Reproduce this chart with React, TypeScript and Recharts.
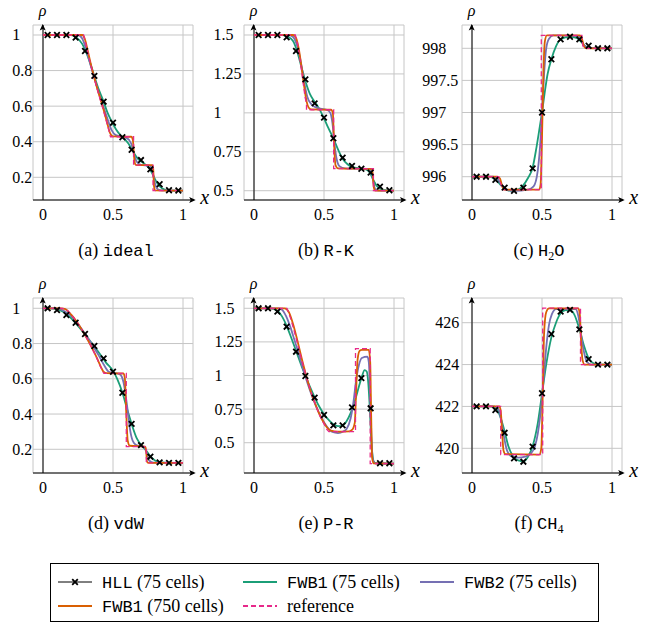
import { LineChart, Line, XAxis, YAxis, CartesianGrid, ReferenceLine } from "recharts";

type Pt = [number, number];

// x positions of the HLL markers (every 5th of 75 cells)
const markerX = [0.033, 0.1, 0.167, 0.233, 0.3, 0.367, 0.433, 0.5, 0.567, 0.633, 0.7, 0.767, 0.833, 0.9, 0.967];
const xTicks = [0, 0.5, 1];

// (a) ideal
const idealTicks = [0.2, 0.4, 0.6, 0.8, 1];
const idealHll = [1, 1, 1, 0.985, 0.91, 0.77, 0.625, 0.507, 0.425, 0.355, 0.297, 0.245, 0.161, 0.127, 0.126];
const idealFwb1: Pt[] = [[0, 1], [0.2, 1], [0.24, 0.985], [0.28, 0.95], [0.31, 0.9], [0.34, 0.835], [0.37, 0.76], [0.4, 0.69], [0.43, 0.632], [0.46, 0.565], [0.49, 0.515], [0.52, 0.472], [0.55, 0.44], [0.58, 0.418], [0.61, 0.39], [0.64, 0.35], [0.67, 0.312], [0.7, 0.29], [0.73, 0.273], [0.76, 0.25], [0.78, 0.222], [0.8, 0.19], [0.82, 0.162], [0.85, 0.138], [0.88, 0.128], [0.92, 0.125], [1, 0.125]];
const idealFwb2: Pt[] = [[0, 1], [0.25, 1], [0.28, 0.98], [0.31, 0.915], [0.34, 0.83], [0.37, 0.75], [0.4, 0.67], [0.43, 0.6], [0.46, 0.53], [0.49, 0.465], [0.52, 0.437], [0.56, 0.428], [0.6, 0.42], [0.63, 0.39], [0.65, 0.33], [0.67, 0.288], [0.7, 0.27], [0.76, 0.265], [0.78, 0.24], [0.8, 0.165], [0.82, 0.132], [0.85, 0.126], [1, 0.125]];
const idealFine: Pt[] = [[0, 1], [0.28, 1], [0.3, 0.975], [0.32, 0.91], [0.35, 0.81], [0.38, 0.72], [0.41, 0.64], [0.44, 0.56], [0.46, 0.5], [0.48, 0.447], [0.5, 0.43], [0.63, 0.428], [0.642, 0.41], [0.65, 0.32], [0.658, 0.275], [0.67, 0.268], [0.78, 0.268], [0.787, 0.25], [0.793, 0.15], [0.8, 0.127], [1, 0.125]];
const idealRef: Pt[] = [[0, 1], [0.29, 1], [0.31, 0.935], [0.34, 0.835], [0.37, 0.745], [0.4, 0.66], [0.43, 0.58], [0.455, 0.51], [0.47, 0.465], [0.482, 0.428], [0.647, 0.428], [0.647, 0.268], [0.786, 0.268], [0.786, 0.125], [1, 0.125]];

// (b) R-K
const rkTicks = [0.5, 0.75, 1, 1.25, 1.5];
const rkHll = [1.5, 1.5, 1.5, 1.485, 1.397, 1.215, 1.061, 0.969, 0.837, 0.712, 0.659, 0.641, 0.616, 0.526, 0.503];
const rkFwb1: Pt[] = [[0, 1.5], [0.2, 1.5], [0.24, 1.49], [0.28, 1.46], [0.31, 1.39], [0.34, 1.29], [0.37, 1.195], [0.4, 1.12], [0.43, 1.075], [0.46, 1.035], [0.5, 0.965], [0.53, 0.905], [0.567, 0.835], [0.6, 0.765], [0.633, 0.705], [0.67, 0.668], [0.7, 0.653], [0.767, 0.642], [0.8, 0.636], [0.83, 0.612], [0.853, 0.567], [0.88, 0.527], [0.92, 0.506], [1, 0.5]];
const rkFwb2: Pt[] = [[0, 1.5], [0.25, 1.5], [0.28, 1.487], [0.31, 1.425], [0.34, 1.3], [0.36, 1.19], [0.38, 1.105], [0.41, 1.055], [0.45, 1.032], [0.52, 1.02], [0.545, 1.0], [0.56, 0.935], [0.575, 0.8], [0.59, 0.705], [0.61, 0.658], [0.65, 0.643], [0.82, 0.64], [0.84, 0.62], [0.853, 0.555], [0.865, 0.512], [0.89, 0.501], [1, 0.5]];
const rkFine: Pt[] = [[0, 1.5], [0.28, 1.5], [0.3, 1.482], [0.32, 1.41], [0.34, 1.29], [0.36, 1.16], [0.375, 1.075], [0.39, 1.035], [0.41, 1.022], [0.55, 1.02], [0.563, 1.0], [0.572, 0.8], [0.582, 0.665], [0.6, 0.643], [0.84, 0.64], [0.848, 0.61], [0.856, 0.52], [0.866, 0.501], [1, 0.5]];
const rkRef: Pt[] = [[0, 1.5], [0.295, 1.5], [0.31, 1.45], [0.33, 1.335], [0.35, 1.2], [0.365, 1.1], [0.375, 1.06], [0.375, 1.02], [0.569, 1.02], [0.569, 0.642], [0.853, 0.642], [0.853, 0.5], [1, 0.5]];

// (c) H2O
const h2oTicks = [996, 996.5, 997, 997.5, 998];
const h2oHll = [996, 996, 995.95, 995.83, 995.78, 995.83, 996.13, 997.0, 997.83, 998.14, 998.18, 998.14, 998.04, 998, 998];
const h2oFwb1: Pt[] = [[0, 996], [0.12, 996], [0.15, 995.98], [0.18, 995.93], [0.21, 995.86], [0.24, 995.8], [0.28, 995.78], [0.32, 995.79], [0.36, 995.85], [0.4, 995.98], [0.433, 996.14], [0.46, 996.45], [0.48, 996.72], [0.5, 997.0], [0.52, 997.32], [0.54, 997.6], [0.567, 997.83], [0.6, 998.03], [0.633, 998.14], [0.7, 998.18], [0.75, 998.16], [0.78, 998.1], [0.81, 998.03], [0.85, 998.005], [1, 998]];
const h2oFwb2: Pt[] = [[0, 996], [0.15, 996], [0.18, 995.97], [0.21, 995.88], [0.24, 995.8], [0.3, 995.78], [0.4, 995.8], [0.44, 995.85], [0.47, 996.1], [0.49, 996.6], [0.5, 997.0], [0.515, 997.6], [0.53, 998.0], [0.55, 998.15], [0.58, 998.2], [0.76, 998.19], [0.78, 998.13], [0.8, 998.05], [0.83, 998.01], [1, 998]];
const h2oFine: Pt[] = [[0, 996], [0.18, 996], [0.2, 995.97], [0.215, 995.86], [0.23, 995.8], [0.48, 995.8], [0.49, 995.88], [0.5, 996.6], [0.51, 997.6], [0.52, 998.1], [0.535, 998.2], [0.77, 998.2], [0.785, 998.15], [0.8, 998.03], [0.815, 998], [1, 998]];
const h2oRef: Pt[] = [[0, 996], [0.19, 996], [0.21, 995.86], [0.22, 995.8], [0.495, 995.8], [0.495, 998.2], [0.785, 998.2], [0.79, 998.05], [0.8, 998], [1, 998]];

// (d) vdW
const vdwTicks = [0.2, 0.4, 0.6, 0.8, 1];
const vdwHll = [1, 0.99, 0.962, 0.918, 0.854, 0.786, 0.716, 0.64, 0.521, 0.344, 0.224, 0.158, 0.126, 0.123, 0.123];
const vdwFwb1: Pt[] = [[0, 1], [0.05, 1], [0.1, 0.995], [0.15, 0.977], [0.2, 0.945], [0.25, 0.9], [0.3, 0.852], [0.35, 0.8], [0.4, 0.748], [0.45, 0.692], [0.5, 0.645], [0.53, 0.6], [0.567, 0.522], [0.6, 0.43], [0.633, 0.344], [0.67, 0.262], [0.7, 0.226], [0.73, 0.2], [0.767, 0.16], [0.8, 0.137], [0.833, 0.127], [0.9, 0.123], [1, 0.123]];
const vdwFwb2: Pt[] = [[0, 1], [0.1, 1], [0.15, 0.985], [0.2, 0.958], [0.25, 0.91], [0.3, 0.855], [0.35, 0.795], [0.4, 0.73], [0.44, 0.672], [0.47, 0.64], [0.52, 0.632], [0.55, 0.625], [0.575, 0.58], [0.6, 0.45], [0.62, 0.32], [0.64, 0.25], [0.67, 0.222], [0.72, 0.215], [0.74, 0.18], [0.76, 0.135], [0.79, 0.124], [1, 0.123]];
const vdwFine: Pt[] = [[0, 1], [0.13, 1], [0.16, 0.995], [0.2, 0.965], [0.24, 0.925], [0.28, 0.875], [0.32, 0.82], [0.36, 0.76], [0.39, 0.71], [0.415, 0.665], [0.43, 0.642], [0.45, 0.632], [0.575, 0.63], [0.585, 0.6], [0.595, 0.4], [0.605, 0.25], [0.62, 0.22], [0.73, 0.215], [0.737, 0.19], [0.743, 0.13], [0.755, 0.123], [1, 0.123]];
const vdwRef: Pt[] = [[0, 1], [0.14, 1], [0.18, 0.985], [0.22, 0.945], [0.26, 0.9], [0.3, 0.85], [0.34, 0.79], [0.38, 0.725], [0.41, 0.67], [0.435, 0.631], [0.595, 0.631], [0.595, 0.215], [0.738, 0.215], [0.738, 0.123], [1, 0.123]];

// (e) P-R
const prTicks = [0.5, 0.75, 1, 1.25, 1.5];
const prHll = [1.5, 1.5, 1.475, 1.363, 1.177, 0.996, 0.835, 0.706, 0.629, 0.629, 0.763, 0.98, 0.756, 0.347, 0.347];
const prFwb1: Pt[] = [[0, 1.5], [0.12, 1.5], [0.17, 1.48], [0.2, 1.44], [0.233, 1.37], [0.27, 1.27], [0.3, 1.185], [0.34, 1.07], [0.367, 1.0], [0.4, 0.915], [0.433, 0.838], [0.47, 0.762], [0.5, 0.712], [0.54, 0.662], [0.567, 0.637], [0.6, 0.623], [0.633, 0.628], [0.66, 0.658], [0.69, 0.72], [0.72, 0.81], [0.75, 0.92], [0.77, 0.99], [0.79, 1.04], [0.805, 1.03], [0.815, 0.96], [0.825, 0.8], [0.835, 0.58], [0.845, 0.42], [0.855, 0.36], [0.87, 0.347], [1, 0.345]];
const prFwb2: Pt[] = [[0, 1.5], [0.17, 1.5], [0.2, 1.49], [0.23, 1.44], [0.26, 1.36], [0.29, 1.26], [0.32, 1.16], [0.35, 1.05], [0.38, 0.95], [0.41, 0.86], [0.44, 0.78], [0.47, 0.71], [0.5, 0.652], [0.53, 0.607], [0.56, 0.58], [0.6, 0.572], [0.64, 0.585], [0.66, 0.6], [0.69, 0.68], [0.71, 0.8], [0.73, 0.97], [0.75, 1.08], [0.77, 1.13], [0.81, 1.14], [0.82, 1.1], [0.83, 0.85], [0.84, 0.5], [0.85, 0.37], [0.865, 0.347], [1, 0.345]];
const prFine: Pt[] = [[0, 1.5], [0.22, 1.5], [0.25, 1.47], [0.28, 1.38], [0.31, 1.26], [0.34, 1.13], [0.37, 1.01], [0.4, 0.9], [0.43, 0.81], [0.46, 0.73], [0.49, 0.665], [0.52, 0.615], [0.55, 0.59], [0.6, 0.582], [0.68, 0.585], [0.7, 0.595], [0.72, 0.65], [0.73, 0.9], [0.74, 1.12], [0.755, 1.185], [0.77, 1.19], [0.82, 1.19], [0.83, 1.1], [0.837, 0.7], [0.843, 0.4], [0.853, 0.347], [1, 0.345]];
const prRef: Pt[] = [[0, 1.5], [0.235, 1.5], [0.26, 1.43], [0.29, 1.32], [0.32, 1.2], [0.35, 1.08], [0.38, 0.97], [0.41, 0.87], [0.44, 0.78], [0.47, 0.7], [0.5, 0.64], [0.52, 0.6], [0.535, 0.582], [0.725, 0.582], [0.725, 1.2], [0.83, 1.2], [0.83, 0.345], [1, 0.345]];

// (f) CH4
const ch4Ticks = [420, 422, 424, 426];
const ch4Hll = [422, 422, 421.83, 420.74, 419.52, 419.36, 420.08, 422.63, 425.46, 426.53, 426.61, 425.68, 424.26, 424, 424];
const ch4Fwb1: Pt[] = [[0, 422], [0.13, 422], [0.17, 421.9], [0.2, 421.55], [0.233, 420.8], [0.26, 420.1], [0.29, 419.65], [0.33, 419.42], [0.37, 419.38], [0.4, 419.6], [0.433, 420.1], [0.47, 421.2], [0.5, 422.6], [0.53, 424.0], [0.567, 425.3], [0.6, 426.0], [0.633, 426.45], [0.67, 426.6], [0.7, 426.6], [0.73, 426.4], [0.767, 425.7], [0.8, 424.9], [0.833, 424.3], [0.87, 424.05], [0.9, 424], [1, 424]];
const ch4Fwb2: Pt[] = [[0, 422], [0.16, 422], [0.19, 421.85], [0.21, 421.3], [0.23, 420.5], [0.25, 419.9], [0.28, 419.62], [0.33, 419.55], [0.38, 419.6], [0.42, 419.75], [0.45, 420.1], [0.47, 420.7], [0.49, 421.7], [0.5, 422.4], [0.515, 423.6], [0.53, 424.8], [0.55, 425.9], [0.57, 426.4], [0.6, 426.65], [0.74, 426.65], [0.76, 426.3], [0.78, 425.4], [0.8, 424.6], [0.82, 424.15], [0.85, 424], [1, 424]];
const ch4Fine: Pt[] = [[0, 422], [0.195, 422], [0.205, 421.8], [0.215, 420.8], [0.225, 419.9], [0.24, 419.72], [0.48, 419.7], [0.495, 420.0], [0.505, 422.5], [0.515, 425.5], [0.53, 426.5], [0.55, 426.68], [0.76, 426.68], [0.77, 426.4], [0.78, 425.0], [0.79, 424.2], [0.805, 424.0], [1, 424]];
const ch4Ref: Pt[] = [[0, 422], [0.205, 422], [0.205, 419.7], [0.505, 419.7], [0.505, 426.7], [0.775, 426.7], [0.775, 424], [1, 424]];

const SERIF = "'Liberation Serif', 'Times New Roman', serif";
const MONO = "'Liberation Mono', 'DejaVu Sans Mono', monospace";
const GREEN = "#1b9e77";
const PURPLE = "#7570b3";
const ORANGE = "#d95f02";
const PINK = "#e7298a";

const PLOT_LEFT = 50;
const PLOT_TOP = 25;
const PLOT_H = 175;
const SVG_W = 215;
const SVG_H = 235;
const X_DOMAIN: [number, number] = [-10 / 140, 150 / 140];

interface PanelDef {
  x0: number;
  top: number;
  domain: [number, number];
  ticks: number[];
  labelX: number;
  capX: number;
  tag: string;
  name: string;
  sub?: [string, string, string];
  hll: number[];
  fwb1: Pt[];
  fwb2: Pt[];
  fine: Pt[];
  ref: Pt[];
}

const panels: PanelDef[] = [
  { x0: 42.7, top: 0, domain: [0.0724, 1.0562], ticks: idealTicks, labelX: 12, capX: 116, tag: "(a)", name: "ideal", hll: idealHll, fwb1: idealFwb1, fwb2: idealFwb2, fine: idealFine, ref: idealRef },
  { x0: 253.5, top: 0, domain: [0.4403, 1.5642], ticks: rkTicks, labelX: 213, capX: 326, tag: "(b)", name: "R-K", hll: rkHll, fwb1: rkFwb1, fwb2: rkFwb2, fine: rkFine, ref: rkRef },
  { x0: 471.7, top: 0, domain: [995.637, 998.363], ticks: h2oTicks, labelX: 422, capX: 539, tag: "(c)", name: "", sub: ["H", "2", "O"], hll: h2oHll, fwb1: h2oFwb1, fwb2: h2oFwb2, fine: h2oFine, ref: h2oRef },
  { x0: 42.7, top: 273, domain: [0.0655, 1.0584], ticks: vdwTicks, labelX: 12, capX: 116, tag: "(d)", name: "vdW", hll: vdwHll, fwb1: vdwFwb1, fwb2: vdwFwb2, fine: vdwFine, ref: vdwRef },
  { x0: 253.5, top: 273, domain: [0.2746, 1.5766], ticks: prTicks, labelX: 214, capX: 326, tag: "(e)", name: "P-R", hll: prHll, fwb1: prFwb1, fwb2: prFwb2, fine: prFine, ref: prRef },
  { x0: 471.7, top: 273, domain: [418.82, 427.18], ticks: ch4Ticks, labelX: 435, capX: 539, tag: "(f)", name: "", sub: ["CH", "4", ""], hll: ch4Hll, fwb1: ch4Fwb1, fwb2: ch4Fwb2, fine: ch4Fine, ref: ch4Ref },
];

const toRows = (pts: Pt[]) => pts.map(([x, y]) => ({ x, y }));

const Cross = (props: any) => {
  const { cx, cy } = props;
  if (cx == null || cy == null) return <g />;
  const s = 2.8;
  return (
    <path
      d={`M${cx - s},${cy - s}L${cx + s},${cy + s}M${cx - s},${cy + s}L${cx + s},${cy - s}`}
      stroke="#000"
      strokeWidth={1.8}
    />
  );
};

const Panel = ({ p }: { p: PanelDef }) => {
  const svgLeft = p.x0 - PLOT_LEFT - 10;
  const hll = markerX.map((x, i) => ({ x, y: p.hll[i] }));
  const labelX = p.labelX - svgLeft;

  return (
    <div style={{ position: "absolute", left: svgLeft, top: p.top }}>
      <LineChart
        width={SVG_W}
        height={SVG_H}
        margin={{ top: PLOT_TOP, right: SVG_W - PLOT_LEFT - 160, bottom: SVG_H - PLOT_TOP - PLOT_H - 30, left: 0 }}
      >
        <CartesianGrid stroke="#c6c6c6" strokeWidth={1} />
        <XAxis
          type="number"
          dataKey="x"
          domain={X_DOMAIN}
          ticks={xTicks}
          interval={0}
          allowDataOverflow
          height={30}
          tickLine={false}
          axisLine={{ stroke: "#000", strokeWidth: 1 }}
          tick={(t: any) => (
            <text x={t.x} y={PLOT_TOP + PLOT_H + 20} textAnchor="middle" style={{ fontFamily: SERIF, fontSize: 16 }} fill="#000">
              {t.payload.value}
            </text>
          )}
        />
        <YAxis
          type="number"
          dataKey="y"
          domain={p.domain}
          ticks={p.ticks}
          interval={0}
          allowDataOverflow
          width={PLOT_LEFT}
          axisLine={false}
          tickLine={false}
          tick={(t: any) => (
            <text x={labelX} y={t.y + 5.5} textAnchor="start" style={{ fontFamily: SERIF, fontSize: 16 }} fill="#000">
              {t.payload.value}
            </text>
          )}
        />
        <ReferenceLine x={0} stroke="#000" strokeWidth={1} />
        {/* HLL drawn as markers only: its 75-cell line lies under the other curves */}
        <Line data={toRows(p.fwb1)} dataKey="y" type="monotone" stroke={GREEN} strokeWidth={1.8} dot={false} activeDot={false} isAnimationActive={false} />
        <Line data={toRows(p.fwb2)} dataKey="y" type="monotone" stroke={PURPLE} strokeWidth={1.8} dot={false} activeDot={false} isAnimationActive={false} />
        <Line data={toRows(p.fine)} dataKey="y" type="monotone" stroke={ORANGE} strokeWidth={1.8} dot={false} activeDot={false} isAnimationActive={false} />
        <Line data={toRows(p.ref)} dataKey="y" type="linear" stroke={PINK} strokeWidth={1.3} strokeDasharray="5 3" dot={false} activeDot={false} isAnimationActive={false} />
        <Line data={hll} dataKey="y" type="linear" stroke="none" dot={Cross} activeDot={false} isAnimationActive={false} />
      </LineChart>
    </div>
  );
};

const Decorations = ({ p }: { p: PanelDef }) => {
  const ty = p.top + PLOT_TOP - 1;
  const ay = p.top + PLOT_TOP + PLOT_H;
  const tx = p.x0 + 153;
  return (
    <g>
      <path d={`M${p.x0},${ty} L${p.x0 - 3},${ty + 6.5} L${p.x0},${ty + 5} L${p.x0 + 3},${ty + 6.5} Z`} fill="#000" />
      <line x1={p.x0 + 150} y1={ay} x2={tx - 2} y2={ay} stroke="#000" strokeWidth={1} />
      <path d={`M${tx},${ay} L${tx - 6.5},${ay - 3} L${tx - 5},${ay} L${tx - 6.5},${ay + 3} Z`} fill="#000" />
      <text x={p.x0} y={p.top + 15.5} textAnchor="middle" style={{ fontFamily: SERIF, fontStyle: "italic", fontSize: 16 }}>ρ</text>
      <text x={p.x0 + 162} y={ay + 4} textAnchor="middle" style={{ fontFamily: SERIF, fontStyle: "italic", fontSize: 20 }}>x</text>
      <text x={p.capX} y={p.top + 256} textAnchor="middle" style={{ fontFamily: SERIF, fontSize: 18 }}>
        {p.tag}{" "}
        {p.sub ? (
          <>
            <tspan style={{ fontFamily: MONO, fontSize: 17 }}>{p.sub[0]}</tspan>
            <tspan style={{ fontSize: 12 }} dy={4}>{p.sub[1]}</tspan>
            {p.sub[2] ? <tspan style={{ fontFamily: MONO, fontSize: 17 }} dy={-4}>{p.sub[2]}</tspan> : null}
          </>
        ) : (
          <tspan style={{ fontFamily: MONO, fontSize: 17 }}>{p.name}</tspan>
        )}
      </text>
    </g>
  );
};

const LegendItem = ({ x, y, color, dash, mark, code, rest }: { x: number; y: number; color: string; dash?: string; mark?: boolean; code: string; rest: string }) => (
  <g>
    <line x1={x} y1={y} x2={x + 34} y2={y} stroke={color} strokeWidth={mark ? 1 : 1.8} strokeDasharray={dash} />
    {mark ? <Cross cx={x + 17} cy={y} /> : null}
    <text x={x + 44} y={y + 5.5} style={{ fontFamily: SERIF, fontSize: 18 }}>
      {code ? <tspan style={{ fontFamily: MONO, fontSize: 17 }}>{code}</tspan> : null}
      <tspan>{rest}</tspan>
    </text>
  </g>
);

export default function App() {
  return (
    <div style={{ position: "absolute", left: 0, top: 0, width: 650, height: 627, background: "#fff", overflow: "hidden" }}>
      {panels.map((p, i) => (
        <Panel key={i} p={p} />
      ))}
      <svg width={650} height={627} style={{ position: "absolute", left: 0, top: 0, pointerEvents: "none" }}>
        {panels.map((p, i) => (
          <Decorations key={i} p={p} />
        ))}
        <rect x={50.5} y={563.5} width={548} height={58} fill="#fff" stroke="#000" strokeWidth={1} />
        <LegendItem x={58} y={582} color="#000" mark code="HLL" rest=" (75 cells)" />
        <LegendItem x={243} y={582} color={GREEN} code="FWB1" rest=" (75 cells)" />
        <LegendItem x={420} y={582} color={PURPLE} code="FWB2" rest=" (75 cells)" />
        <LegendItem x={58} y={606} color={ORANGE} code="FWB1" rest=" (750 cells)" />
        <LegendItem x={243} y={606} color={PINK} dash="5 3" code="" rest="reference" />
      </svg>
    </div>
  );
}
